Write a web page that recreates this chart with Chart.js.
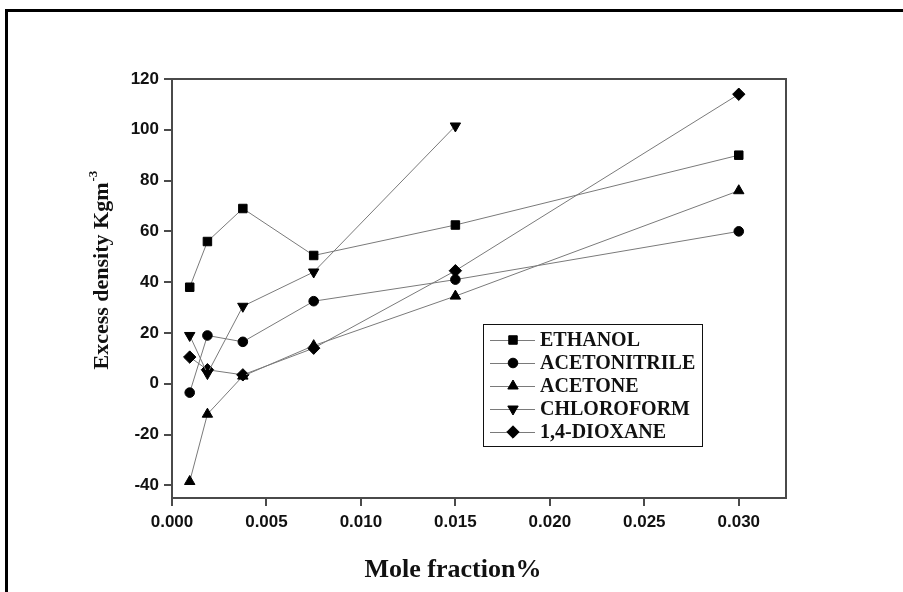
<!DOCTYPE html>
<html>
<head>
<meta charset="utf-8">
<script src="https://cdn.jsdelivr.net/npm/chart.js@4"></script>
<style>
  html, body { margin: 0; padding: 0; background: #fff; }
  #wrap { width: 903px; height: 592px; position: relative; }
</style>
</head>
<body>
<div id="wrap"><canvas id="chart" width="903" height="592"></canvas></div>
<script>
// mole fractions (x)
const moleFraction = [0.0009375, 0.001875, 0.00375, 0.0075, 0.015, 0.030];

// excess density values
const ethanol      = [38, 56, 69, 50.5, 62.5, 90];
const acetonitrile = [-3.5, 19, 16.5, 32.5, 41, 60];
const acetone      = [-38.5, -12, 3, 15, 34.5, 76];
const chloroform   = [19, 4, 30.5, 44, 101.5];
const dioxane      = [10.5, 5.5, 3.5, 14, 44.5, 114];

const seriesNames = ['ETHANOL', 'ACETONITRILE', 'ACETONE', 'CHLOROFORM', '1,4-DIOXANE'];
const seriesValues = [ethanol, acetonitrile, acetone, chloroform, dioxane];
const markerStyles = ['rect', 'circle', 'triangle', 'triangle', 'rectRot'];
const markerRotation = [0, 0, 0, 180, 0];
const markerRadius = [6, 4.8, 6, 6, 6.2];

const xTicks = [0.000, 0.005, 0.010, 0.015, 0.020, 0.025, 0.030];
const yTicks = [-40, -20, 0, 20, 40, 60, 80, 100, 120];

const datasets = seriesNames.map((name, i) => ({
  label: name,
  data: seriesValues[i].map((v, j) => ({ x: moleFraction[j], y: v })),
  borderColor: '#7a7a7a',
  borderWidth: 1,
  backgroundColor: '#000',
  pointBackgroundColor: '#000',
  pointBorderColor: '#000',
  pointBorderWidth: 1,
  pointStyle: markerStyles[i],
  rotation: markerRotation[i],
  pointRadius: markerRadius[i],
  tension: 0,
  fill: false
}));

// frame, titles and the legend box drawn on the canvas
const decor = {
  id: 'decor',
  afterDraw(chart) {
    const ctx = chart.ctx;
    const a = chart.chartArea;
    ctx.save();

    // outer page border (top and left)
    ctx.strokeStyle = '#000';
    ctx.lineWidth = 3;
    ctx.beginPath();
    ctx.moveTo(6.5, 592);
    ctx.lineTo(6.5, 10.5);
    ctx.lineTo(903, 10.5);
    ctx.stroke();

    // plot frame
    ctx.strokeStyle = '#4a4a4a';
    ctx.lineWidth = 2;
    ctx.strokeRect(a.left, a.top, a.right - a.left, a.bottom - a.top);

    // x title
    ctx.fillStyle = '#111';
    ctx.font = 'bold 26px "Liberation Serif", "Times New Roman", serif';
    ctx.textAlign = 'center';
    ctx.textBaseline = 'alphabetic';
    ctx.fillText('Mole fraction%', 453, 577);

    // y title with superscript
    ctx.save();
    ctx.translate(108, 276);
    ctx.rotate(-Math.PI / 2);
    const main = 'Excess density Kgm';
    ctx.font = 'bold 22px "Liberation Serif", "Times New Roman", serif';
    const w2 = ctx.measureText(main).width;
    ctx.textAlign = 'left';
    ctx.fillText(main, -w2 / 2, 0);
    ctx.font = 'bold 13px "Liberation Serif", "Times New Roman", serif';
    ctx.fillText('-3', w2 / 2 + 1, -11);
    ctx.restore();

    // legend
    const bx = 483, by = 324, bw = 219, bh = 122;
    ctx.fillStyle = '#fff';
    ctx.fillRect(bx, by, bw, bh);
    ctx.strokeStyle = '#111';
    ctx.lineWidth = 1;
    ctx.strokeRect(bx + 0.5, by + 0.5, bw, bh);
    ctx.font = 'bold 20px "Liberation Serif", "Times New Roman", serif';
    ctx.textAlign = 'left';
    ctx.textBaseline = 'middle';
    chart.data.datasets.forEach((ds, i) => {
      const y = by + 16 + i * 23;
      ctx.strokeStyle = '#7a7a7a';
      ctx.lineWidth = 1;
      ctx.beginPath();
      ctx.moveTo(bx + 7, y + 0.5);
      ctx.lineTo(bx + 52, y + 0.5);
      ctx.stroke();
      ctx.fillStyle = '#000';
      ctx.strokeStyle = '#000';
      Chart.helpers.drawPoint(ctx, {
        pointStyle: ds.pointStyle,
        rotation: ds.rotation,
        radius: ds.pointRadius,
        borderWidth: 1
      }, bx + 30, y);
      ctx.fillStyle = '#111';
      ctx.fillText(ds.label, bx + 57, y + 1);
    });

    ctx.restore();
  }
};

new Chart(document.getElementById('chart'), {
  type: 'scatter',
  data: { datasets },
  options: {
    responsive: false,
    animation: false,
    showLine: true,
    layout: { padding: { top: 79, right: 117, left: 0, bottom: 0 } },
    plugins: {
      legend: { display: false },
      tooltip: { enabled: false }
    },
    scales: {
      x: {
        type: 'linear',
        min: 0,
        max: 0.0325,
        afterFit: s => { s.height = 94; },
        afterBuildTicks: s => { s.ticks = xTicks.map(v => ({ value: v })); },
        grid: { display: true, drawOnChartArea: false, drawTicks: true, tickLength: 8, color: '#4a4a4a', lineWidth: 2 },
        border: { display: true, color: '#4a4a4a', width: 2 },
        ticks: {
          padding: 6,
          color: '#111',
          font: { family: '"Liberation Sans", Arial, sans-serif', size: 17, weight: 'bold' },
          callback: v => Number(v).toFixed(3),
          maxRotation: 0
        }
      },
      y: {
        type: 'linear',
        min: -45,
        max: 120,
        afterFit: s => { s.width = 172; },
        afterBuildTicks: s => { s.ticks = yTicks.map(v => ({ value: v })); },
        grid: { display: true, drawOnChartArea: false, drawTicks: true, tickLength: 8, color: '#4a4a4a', lineWidth: 2 },
        border: { display: true, color: '#4a4a4a', width: 2 },
        ticks: {
          padding: 5,
          color: '#111',
          font: { family: '"Liberation Sans", Arial, sans-serif', size: 17, weight: 'bold' },
          callback: v => String(v)
        }
      }
    }
  },
  plugins: [decor]
});
</script>
</body>
</html>
